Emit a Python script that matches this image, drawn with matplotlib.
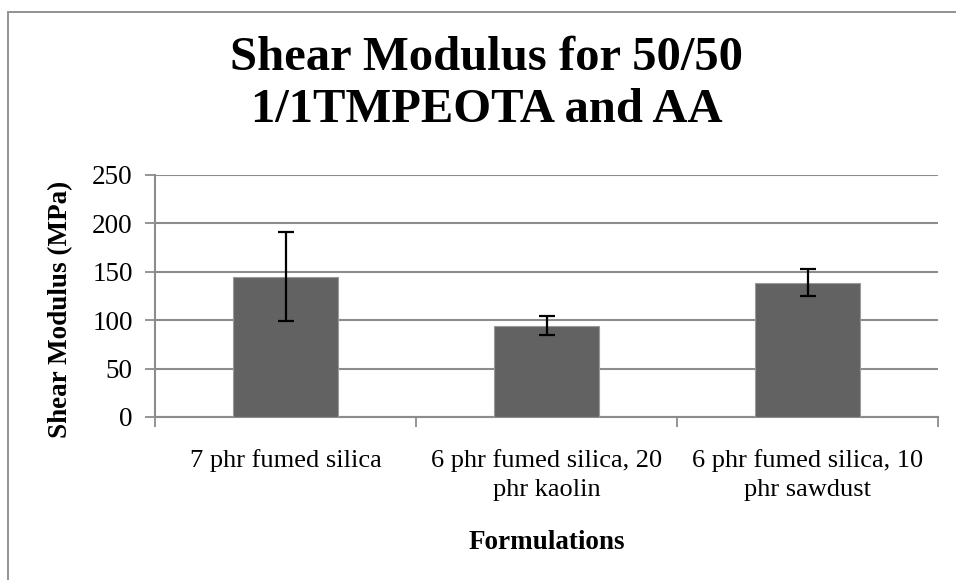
import matplotlib
matplotlib.use("Agg")
import numpy as np
import matplotlib.pyplot as plt
from matplotlib.patches import Rectangle

categories = ["7 phr fumed silica", "6 phr fumed silica, 20\nphr kaolin",
              "6 phr fumed silica, 10\nphr sawdust"]
modulus = [145, 94.5, 138.5]
modulus_err = [46, 10, 14]
yticks = [0, 50, 100, 150, 200, 250]

plt.rcParams['font.family'] = ['Liberation Serif', 'DejaVu Serif']

fig = plt.figure(figsize=(9.56, 5.8), dpi=100)
W, H = 956, 580
# chart frame (clipped at right/bottom like the source)
fig.patches.append(Rectangle((8 / W, -0.1), 1.2, 1 - 11.5 / H + 0.1, transform=fig.transFigure,
                             fill=False, edgecolor='#8a8a8a', linewidth=1.3))

ax = fig.add_axes([155 / W, 1 - 417 / H, 783 / W, 242 / H])
x = np.arange(len(categories))
ax.bar(x, modulus, width=0.4, color='#626262', edgecolor='#9a9a9a', linewidth=0.8, zorder=3)
ax.errorbar(x, modulus, yerr=modulus_err, fmt='none', ecolor='black', elinewidth=1.6,
            capsize=6, capthick=1.6, zorder=4)

ax.set_xlim(-0.5, 2.5)
ax.set_ylim(0, 250)
ax.set_yticks(yticks)
ax.set_yticklabels([str(v) for v in yticks], fontsize=19.5)
ax.yaxis.grid(True, color='#8c8c8c', linewidth=1.5, zorder=0)
ax.set_axisbelow(True)

ax.set_xticks(x)
ax.set_xticklabels(categories, fontsize=19, linespacing=1.4)
ax.set_xticks([-0.5, 0.5, 1.5, 2.5], minor=True)
ax.tick_params(axis='x', which='major', length=0, pad=23)
ax.tick_params(axis='x', which='minor', length=7, width=1.3, color='#8c8c8c')
ax.tick_params(axis='y', length=7, width=1.3, color='#8c8c8c', pad=9)

for s in ['top', 'right']:
    ax.spines[s].set_visible(False)
for s in ['left', 'bottom']:
    ax.spines[s].set_color('#8c8c8c')
    ax.spines[s].set_linewidth(1.5)

fig.text(547 / W, 1 - 549 / H, 'Formulations', ha='center', va='baseline',
         fontsize=19.5, fontweight='bold')
fig.text(61 / W, 1 - 309 / H, 'Shear Modulus (MPa)', ha='center', va='center',
         rotation=90, fontsize=19.5, fontweight='bold')

fig.text(487 / W, 1 - 122 / H, 'Shear Modulus for 50/50\n1/1TMPEOTA and AA', ha='center',
         va='baseline', fontsize=35, fontweight='bold', linespacing=1.25)

fig.savefig('out.png', dpi=100)
